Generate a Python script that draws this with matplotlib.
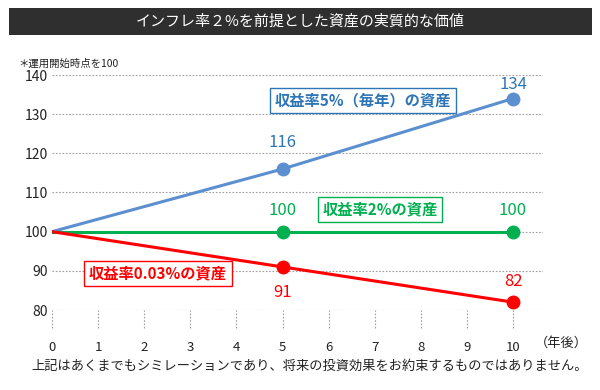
import numpy as np
import matplotlib
matplotlib.use("Agg")
import matplotlib.pyplot as plt
from matplotlib.patches import Rectangle

plt.rcParams['font.family'] = ['Noto Sans CJK JP', 'DejaVu Sans']

# data
years = [0, 5, 10]
rate5 = [100, 116, 134]
rate2 = [100, 100, 100]
rate003 = [100, 91, 82]
xticks = list(range(0, 11))
yticks = [80, 90, 100, 110, 120, 130, 140]

title = 'インフレ率２%を前提とした資産の実質的な価値'
note = '＊運用開始時点を100'
footer = '上記はあくまでもシミレーションであり、将来の投資効果をお約束するものではありません。'

blue, green, red = '#5B8FCF', '#00B050', '#FF0000'
blue_txt = '#2E75B6'

fig = plt.figure(figsize=(6, 3.9), dpi=100)
ax = fig.add_axes([52/600, 1 - 310/390, (543-52)/600, (310-75)/390])
ax.set_xlim(0, 10.65)
ax.set_ylim(80, 140)

for s in ax.spines.values():
    s.set_visible(False)
for y in yticks:
    ax.axhline(y, color='#A0A0A0', lw=0.8, ls=(0, (1.5, 1.5)), zorder=0)
ax.set_yticks(yticks)
ax.set_xticks(xticks)
ax.tick_params(axis='y', length=0, labelsize=10, colors='#222222', pad=3)
ax.tick_params(axis='x', length=0, labelsize=9.5, colors='#222222', pad=22)
ax.vlines(xticks, -0.075, 0, transform=ax.get_xaxis_transform(),
          colors='#A0A0A0', lw=0.8, linestyles=(0, (1.5, 1.5)), clip_on=False)

ax.plot(years, rate5, color=blue, lw=2.2, zorder=3)
ax.plot(years[1:], rate5[1:], 'o', color=blue, ms=9, zorder=4)
ax.plot(years, rate2, color=green, lw=2.2, zorder=3)
ax.plot(years[1:], rate2[1:], 'o', color=green, ms=9, zorder=4)
ax.plot(years, rate003, color=red, lw=2.2, zorder=3)
ax.plot(years[1:], rate003[1:], 'o', color=red, ms=9, zorder=4)

# value labels
ax.annotate(str(rate5[1]), (5, rate5[1]), xytext=(0, 13), textcoords='offset points',
            ha='center', va='bottom', color=blue_txt, fontsize=12)
ax.annotate(str(rate5[2]), (10, rate5[2]), xytext=(0, 4), textcoords='offset points',
            ha='center', va='bottom', color=blue_txt, fontsize=12)
ax.annotate(str(rate2[1]), (5, rate2[1]), xytext=(0, 9), textcoords='offset points',
            ha='center', va='bottom', color=green, fontsize=12)
ax.annotate(str(rate2[2]), (10, rate2[2]), xytext=(0, 9), textcoords='offset points',
            ha='center', va='bottom', color=green, fontsize=12)
ax.annotate(str(rate003[1]), (5, rate003[1]), xytext=(0, -12), textcoords='offset points',
            ha='center', va='top', color=red, fontsize=12)
ax.annotate(str(rate003[2]), (10, rate003[2]), xytext=(0, 9), textcoords='offset points',
            ha='center', va='bottom', color=red, fontsize=12)

# series boxes
ax.text(6.75, 133.4, '収益率5%（毎年）の資産', ha='center', va='center', color=blue_txt,
        fontsize=11, fontweight='bold',
        bbox=dict(boxstyle='square,pad=0.3', fc='white', ec=blue_txt, lw=1))
ax.text(7.11, 105.6, '収益率2%の資産', ha='center', va='center', color=green,
        fontsize=11, fontweight='bold',
        bbox=dict(boxstyle='square,pad=0.3', fc='white', ec=green, lw=1))
ax.text(2.3, 89.3, '収益率0.03%の資産', ha='center', va='center', color=red,
        fontsize=11, fontweight='bold',
        bbox=dict(boxstyle='square,pad=0.3', fc='white', ec=red, lw=1))

# title bar
fig.patches.append(Rectangle((9/600, 1 - 35/390), 583/600, 27/390,
                             transform=fig.transFigure, fc='#2F2F2F', ec='none'))
fig.text(0.5, 1 - 21.5/390, title, ha='center', va='center', color='white', fontsize=10.8)
fig.text(18/600, 1 - 64/390, note, ha='left', va='center', color='#222222', fontsize=7.5)
fig.text(535/600, 1 - 343/390, '（年後）', ha='left', va='center', color='#222222', fontsize=9.5)
fig.text(310/600, 1 - 366/390, footer, ha='center', va='center', color='#222222', fontsize=9.5)

fig.savefig('out.png', dpi=100)
